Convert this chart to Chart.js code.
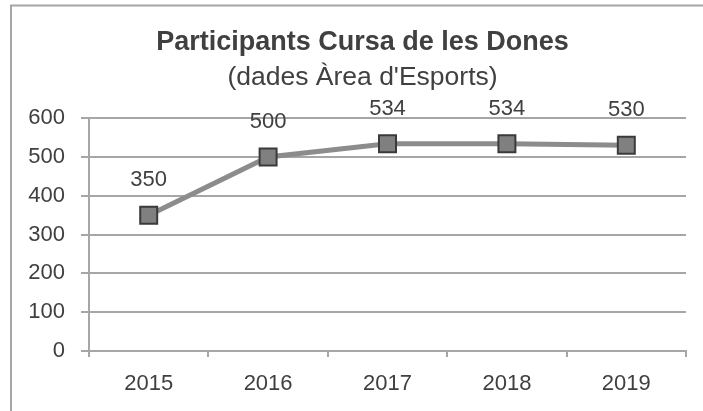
<!DOCTYPE html>
<html>
<head>
<meta charset="utf-8">
<script src="https://cdn.jsdelivr.net/npm/chart.js@4/dist/chart.umd.min.js"></script>
<style>
  html,body{margin:0;padding:0;background:#fff;}
  #wrap{width:703px;height:411px;position:relative;}
</style>
</head>
<body>
<div id="wrap"><canvas id="c" width="703" height="411"></canvas></div>
<script>
// ── data ────────────────────────────────────────────────
const years = ["2015","2016","2017","2018","2019"];
const participants = [350, 500, 534, 534, 530];
const yTicks = [0, 100, 200, 300, 400, 500, 600];

const C = { ink:"#404040", line:"#8c8c8c", marker:"#808080", markerEdge:"#3a3a3a", grid:"#a6a6a6", frame:"#a6a6a6" };
const FONT = "'Liberation Sans', Arial, sans-serif";

// frame round the chart (left + top only, like the source)
const framePlugin = {
  id:"frame",
  afterLayout(chart){
    // title block sits a bit right of the plot centre in the source
    chart.boxes.filter(b=>b.position==="top").forEach(b=>{ b.left += 14; b.right += 14; });
  },
  beforeDraw(chart){
    const ctx = chart.ctx;
    ctx.save();
    ctx.strokeStyle = C.frame; ctx.lineWidth = 2;
    ctx.beginPath();
    ctx.moveTo(11, 411); ctx.lineTo(11, 5.5); ctx.lineTo(703, 5.5);
    ctx.stroke();
    ctx.restore();
  }
};

// value labels above points
const labelPlugin = {
  id:"valueLabels",
  afterDatasetsDraw(chart){
    const ctx = chart.ctx, meta = chart.getDatasetMeta(0);
    ctx.save();
    ctx.font = `22px ${FONT}`; ctx.fillStyle = C.ink;
    ctx.textAlign = "center"; ctx.textBaseline = "middle";
    meta.data.forEach((p,i)=>{ ctx.fillText(String(participants[i]), p.x, p.y - 35); });
    ctx.restore();
  }
};

new Chart(document.getElementById("c"), {
  type:"line",
  data:{ labels:years, datasets:[{
    data:participants, borderColor:C.line, borderWidth:5,
    pointStyle:"rect", pointRadius:12, pointHoverRadius:12,
    pointBackgroundColor:C.marker, pointBorderColor:C.markerEdge, pointBorderWidth:2,
    tension:0,
  }]},
  options:{
    responsive:false, animation:false, devicePixelRatio:1,
    layout:{ padding:{ left:11, right:17, top:0, bottom:0 } },
    plugins:{
      legend:{ display:false }, tooltip:{ enabled:false },
      title:{ display:true, text:"Participants Cursa de les Dones", color:C.ink,
        font:{ family:FONT, size:27, weight:"bold" }, padding:{ top:26, bottom:0 } },
      subtitle:{ display:true, text:"(dades Àrea d'Esports)", color:C.ink,
        font:{ family:FONT, size:26.5 }, padding:{ top:3, bottom:25 } },
    },
    scales:{
      x:{ offset:true,
        grid:{ offset:true, drawOnChartArea:false, drawTicks:true, tickLength:6, color:C.grid, lineWidth:2 },
        border:{ display:true, color:C.grid, width:2 },
        ticks:{ color:C.ink, font:{ family:FONT, size:22 }, padding:14 },
        afterFit(s){ s.height = 60; } },
      y:{ min:0, max:600,
        afterBuildTicks(s){ s.ticks = yTicks.map(v=>({ value:v })); },
        grid:{ color:C.grid, lineWidth:2, tickLength:8 },
        border:{ display:true, color:C.grid, width:2 },
        ticks:{ color:C.ink, font:{ family:FONT, size:22 }, padding:16 },
        afterFit(s){ s.width = 78; } },
    },
  },
  plugins:[framePlugin, labelPlugin],
});
</script>
</body>
</html>
